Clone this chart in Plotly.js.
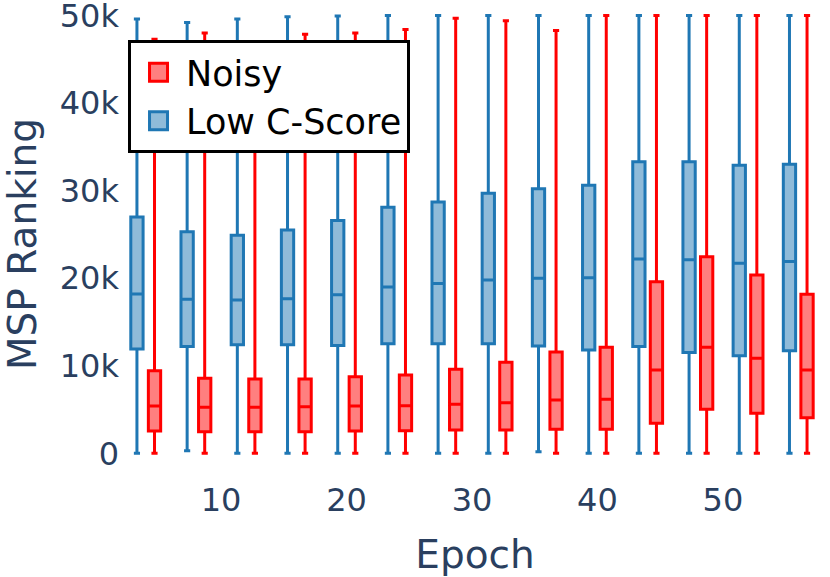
<!DOCTYPE html>
<html>
<head>
<meta charset="utf-8">
<script src="https://cdn.plot.ly/plotly-3.0.1.min.js"></script>
<style>html,body{margin:0;padding:0;background:#fff;}#chart{width:830px;height:577px;}</style>
</head>
<body>
<div id="chart"></div>
<script>
const epochs = [4, 8, 12, 16, 20, 24, 28, 32, 36, 40, 44, 48, 52, 56];

// Low C-Score (blue)
const lowLower  = [0, 300, 0, 0, 0, 0, 0, 0, 180, 0, 0, 0, 0, 0];
const lowQ1     = [11900, 12200, 12400, 12400, 12300, 12500, 12500, 12500, 12250, 11800, 12200, 11500, 11150, 11700];
const lowMedian = [18200, 17600, 17500, 17650, 18100, 19000, 19400, 19800, 20000, 20050, 22200, 22100, 21700, 21900];
const lowQ3     = [27000, 25300, 24900, 25500, 26600, 28100, 28700, 29700, 30200, 30600, 33300, 33300, 32900, 33000];
const lowUpper  = [49600, 49200, 49600, 49850, 49950, 50000, 50000, 50000, 50000, 50000, 50000, 50000, 50000, 50000];

// Noisy (red)
const noisyLower  = [0, 0, 0, 0, 0, 0, 0, 0, 0, 0, 0, 0, 0, 0];
const noisyQ1     = [2550, 2470, 2470, 2470, 2550, 2580, 2660, 2660, 2740, 2740, 3430, 5030, 4570, 4070];
const noisyMedian = [5400, 5250, 5250, 5320, 5400, 5440, 5600, 5780, 6090, 6170, 9510, 12100, 10850, 9510];
const noisyQ3     = [9430, 8570, 8490, 8490, 8750, 8940, 9600, 10400, 11570, 12100, 19600, 22450, 20360, 18160];
const noisyUpper  = [47300, 48000, 46500, 47850, 48000, 48400, 49700, 49400, 48300, 50000, 50000, 50000, 50000, 50000];

const xTicks = [10, 20, 30, 40, 50];
const yTicks = [0, 10000, 20000, 30000, 40000, 50000];
const yTickText = ['0', '10k', '20k', '30k', '40k', '50k'];

const FONT = 'DejaVu Sans, Verdana, sans-serif';

const traces = [
  {
    type: 'box', name: 'Low C-Score', x: epochs,
    q1: lowQ1, median: lowMedian, q3: lowQ3,
    lowerfence: lowLower, upperfence: lowUpper,
    marker: {color: '#1f77b4'}, line: {color: '#1f77b4', width: 3},
    fillcolor: 'rgba(31,119,180,0.5)', boxpoints: false
  },
  {
    type: 'box', name: 'Noisy', x: epochs,
    q1: noisyQ1, median: noisyMedian, q3: noisyQ3,
    lowerfence: noisyLower, upperfence: noisyUpper,
    marker: {color: 'red'}, line: {color: 'red', width: 3},
    fillcolor: 'rgba(255,0,0,0.5)', boxpoints: false
  }
];

const layout = {
  width: 830, height: 577,
  margin: {l: 120, r: 0, t: 10, b: 99},
  paper_bgcolor: '#fff', plot_bgcolor: '#fff',
  boxmode: 'group',
  font: {family: FONT, color: '#2a3f5f'},
  xaxis: {
    range: [1.95, 58.53],
    tickvals: xTicks, ticktext: xTicks.map(String),
    showgrid: false, zeroline: false, showline: false, ticks: '',
    ticklabeloverflow: 'allow',
    tickfont: {size: 32, family: FONT, color: '#2a3f5f'},
    title: {text: 'Epoch', font: {size: 39, family: FONT, color: '#2a3f5f'}}
  },
  yaxis: {
    range: [-2821, 50628],
    tickvals: yTicks, ticktext: yTickText,
    showgrid: false, zeroline: false, showline: false, ticks: '',
    ticklabeloverflow: 'allow',
    tickfont: {size: 32, family: FONT, color: '#2a3f5f'},
    title: {text: 'MSP Ranking', font: {size: 39, family: FONT, color: '#2a3f5f'}}
  },
  legend: {
    x: 0.0113, y: 0.936, xanchor: 'left', yanchor: 'top',
    traceorder: 'reversed', itemwidth: 45,
    bgcolor: '#fff', bordercolor: '#000', borderwidth: 3,
    font: {size: 35, family: FONT, color: '#000'}
  },
  showlegend: true
};

Plotly.newPlot('chart', traces, layout, {staticPlot: true, displayModeBar: false}).then(function (gd) {
  gd.querySelectorAll('.legend .legendpoints path').forEach(function (p) {
    p.setAttribute('d', 'M9,9H-9V-9H9Z');
  });
});
</script>
</body>
</html>
